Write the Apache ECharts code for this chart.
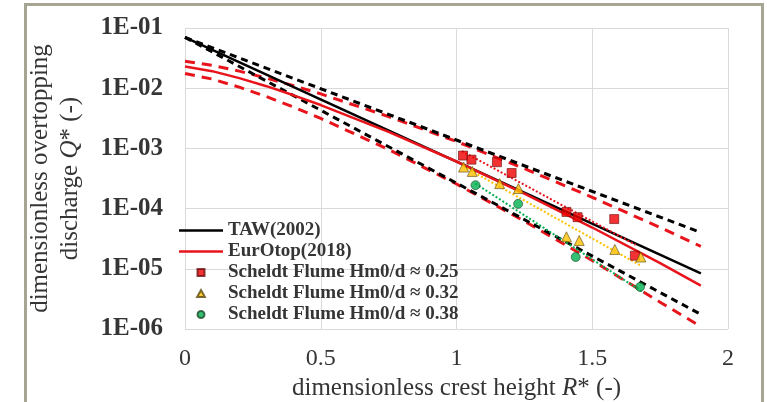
<!DOCTYPE html>
<html>
<head>
<meta charset="utf-8">
<title>Overtopping discharge</title>
<script src="https://cdn.jsdelivr.net/npm/echarts@6/dist/echarts.min.js"></script>
<style>
  html, body { margin: 0; padding: 0; background: #fff; }
  #chart { width: 767px; height: 402px; }
  #frame {
    position: absolute; left: 24px; top: 3px; width: 734px; height: 430px;
    border: 3px solid #a6a493; pointer-events: none;
  }
</style>
</head>
<body>
<div id="chart"></div>
<div id="frame"></div>
<script>
// TAW (2002) - straight lines on log scale, start and end
var tawX = [0, 1.9]
var tawMean = [0.07, 8.4e-6]
var tawUpper = [0.07, 4.0e-5]
var tawLower = [0.07, 1.75e-6]

// EurOtop (2018) - slightly curved, read at a few R* values
var eurX = [0, 0.1, 0.2, 0.3, 0.4, 0.5, 0.75, 1.0, 1.25, 1.5, 1.75, 1.9]
var eurMean = [0.023, 0.0192, 0.0147, 0.0108, 0.00762, 0.00525, 0.00188, 6.06e-4, 1.78e-4, 4.85e-5, 1.24e-5, 5.27e-6]
var eurUpper = [0.028, 0.024, 0.0192, 0.0147, 0.011, 0.00804, 0.00338, 1.30e-3, 4.61e-4, 1.54e-4, 4.85e-5, 2.36e-5]
var eurLower = [0.0175, 0.0142, 0.0104, 0.00724, 0.00485, 0.00315, 9.57e-4, 2.56e-4, 6.19e-5, 1.37e-5, 2.79e-6, 1.1e-6]

// Scheldt flume measurements
var flume25X = [1.024, 1.055, 1.149, 1.203, 1.405, 1.446, 1.581, 1.657]
var flume25Q = [7.6e-4, 6.5e-4, 5.9e-4, 3.9e-4, 8.8e-5, 7.2e-5, 6.7e-5, 1.65e-5]
var flume32X = [1.026, 1.058, 1.159, 1.228, 1.405, 1.452, 1.583, 1.679]
var flume32Q = [4.9e-4, 4.15e-4, 2.6e-4, 2.15e-4, 3.4e-5, 2.95e-5, 2.1e-5, 1.57e-5]
var flume38X = [1.07, 1.227, 1.439, 1.676]
var flume38Q = [2.45e-4, 1.2e-4, 1.57e-5, 5.0e-6]

// trend lines (dotted)
var trend25X = [1.02, 1.66]
var trend25Q = [9.0e-4, 2.5e-5]
var trend32X = [1.026, 1.68]
var trend32Q = [5.0e-4, 1.12e-5]
var trend38X = [1.07, 1.69]
var trend38Q = [2.6e-4, 4.0e-6]

var yTickLabels = ['1E-06', '1E-05', '1E-04', '1E-03', '1E-02', '1E-01']

var legendNames = ['TAW(2002)', 'EurOtop(2018)', 'Scheldt Flume Hm0/d \u2248 0.25', 'Scheldt Flume Hm0/d \u2248 0.32', 'Scheldt Flume Hm0/d \u2248 0.38']

var FONT = '"Liberation Serif", "Times New Roman", serif'
var TXT = '#353535'
var RED = '#e8141b'

function zip(xs, ys) {
  return xs.map(function(x, i) { return [x, ys[i]] })
}

function lineSeries(name, xs, ys, color, type, width, z) {
  return {
    name: name,
    type: 'line',
    symbol: 'none',
    data: zip(xs, ys),
    lineStyle: { color: color, width: width, type: type },
    itemStyle: { color: color },
    z: z,
    silent: true
  }
}

// legend icons (keep aspect so squares stay square)
var lineIcon = 'path://M0,0H44V2.6H0Z'
var squareIcon = 'path://M0,0H10V10H0Z'
var triIcon = 'path://M5,0L10,9H0Z'

var chart = echarts.init(document.getElementById('chart'))

chart.setOption({
  animation: false,
  grid: { left: 185, right: 39, top: 28, bottom: 73, outerBoundsMode: 'none' },
  legend: {
    orient: 'vertical',
    left: 174,
    top: 216,
    itemWidth: 44,
    itemHeight: 7,
    itemGap: 2,
    textStyle: { fontFamily: FONT, fontSize: 19, fontWeight: 'bold', color: TXT },
    data: [
      { name: legendNames[0], icon: lineIcon },
      { name: legendNames[1], icon: lineIcon },
      { name: legendNames[2], icon: squareIcon },
      { name: legendNames[3], icon: triIcon },
      { name: legendNames[4], icon: 'circle' }
    ]
  },
  xAxis: {
    type: 'value',
    min: 0,
    max: 2,
    interval: 0.5,
    axisLine: { show: false },
    axisTick: { show: false },
    splitLine: { lineStyle: { color: '#d9d9d9', width: 1 } },
    axisLabel: { fontFamily: FONT, fontSize: 24, color: TXT, margin: 18 },
    name: 'dimensionless crest height {i|R}* (-)',
    nameLocation: 'middle',
    nameGap: 38,
    nameTextStyle: {
      fontFamily: FONT, fontSize: 25, color: TXT,
      rich: { i: { fontFamily: FONT, fontSize: 25, fontStyle: 'italic', color: TXT } }
    }
  },
  yAxis: {
    type: 'log',
    logBase: 10,
    min: 1e-6,
    max: 0.1,
    axisLine: { show: false },
    axisTick: { show: false },
    splitLine: { lineStyle: { color: '#d9d9d9', width: 1 } },
    axisLabel: {
      fontFamily: FONT, fontSize: 25, fontWeight: 'bold', color: TXT, margin: 22,
      formatter: function(v) {
        return yTickLabels[Math.round(Math.log10(v)) + 6]
      }
    },
    name: 'dimensionless overtopping\ndischarge {i|Q}* (-)',
    nameLocation: 'middle',
    nameRotate: 90,
    nameGap: 100,
    nameTextStyle: {
      fontFamily: FONT, fontSize: 25, color: TXT, lineHeight: 30, align: 'center',
      rich: { i: { fontFamily: FONT, fontSize: 25, fontStyle: 'italic', color: TXT, lineHeight: 30 } }
    }
  },
  series: [
    lineSeries('EurOtop upper', eurX, eurUpper, RED, [10, 7], 3, 2),
    lineSeries('EurOtop lower', eurX, eurLower, RED, [10, 7], 3, 2),
    lineSeries('TAW upper', tawX, tawUpper, '#000', [7, 5], 3, 3),
    lineSeries('TAW lower', tawX, tawLower, '#000', [7, 5], 3, 3),
    lineSeries('TAW(2002)', tawX, tawMean, '#000', 'solid', 2.5, 3),
    lineSeries('EurOtop(2018)', eurX, eurMean, RED, 'solid', 2.5, 4),
    lineSeries('trend 0.25', trend25X, trend25Q, RED, 'dotted', 2, 5),
    lineSeries('trend 0.32', trend32X, trend32Q, '#ffc000', 'dotted', 2, 5),
    lineSeries('trend 0.38', trend38X, trend38Q, '#00b050', 'dotted', 2, 5),
    {
      name: legendNames[2],
      type: 'scatter',
      symbol: 'rect',
      symbolSize: 9,
      data: zip(flume25X, flume25Q),
      itemStyle: { color: '#f00000', borderColor: '#6b1010', borderWidth: 0.8 },
      z: 10
    },
    {
      name: legendNames[3],
      type: 'scatter',
      symbol: 'triangle',
      symbolSize: 10,
      data: zip(flume32X, flume32Q),
      itemStyle: { color: '#ffc000', borderColor: '#5a4a10', borderWidth: 0.8 },
      z: 10
    },
    {
      name: legendNames[4],
      type: 'scatter',
      symbol: 'circle',
      symbolSize: 9,
      data: zip(flume38X, flume38Q),
      itemStyle: { color: '#00b050', borderColor: '#1f4a2a', borderWidth: 0.8 },
      z: 10
    }
  ]
})
</script>
</body>
</html>
